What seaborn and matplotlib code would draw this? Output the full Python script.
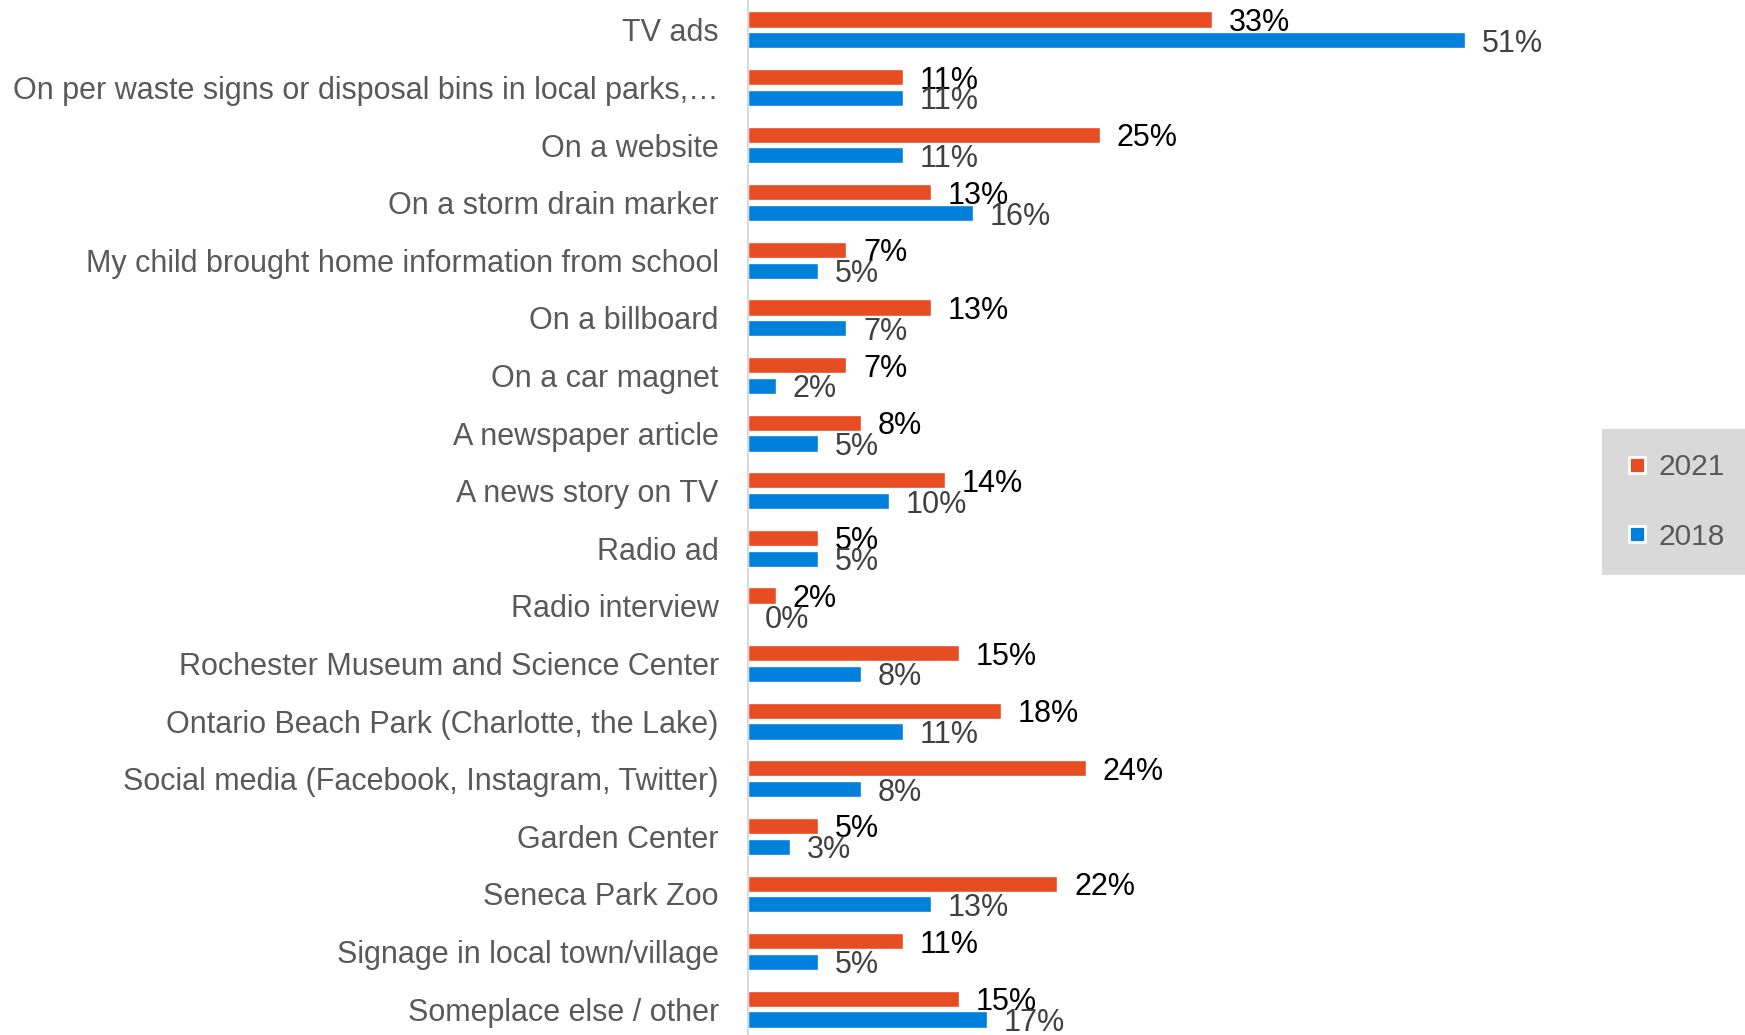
import pandas as pd
import seaborn as sns
import matplotlib.pyplot as plt
from matplotlib.lines import Line2D

# survey answers: where people saw the message
categories = [
    "TV ads",
    "On per waste signs or disposal bins in local parks,\u2026",
    "On a website",
    "On a storm drain marker",
    "My child brought home information from school",
    "On a billboard",
    "On a car magnet",
    "A newspaper article",
    "A news story on TV",
    "Radio ad",
    "Radio interview",
    "Rochester Museum and Science Center",
    "Ontario Beach Park (Charlotte, the Lake)",
    "Social media (Facebook, Instagram, Twitter)",
    "Garden Center",
    "Seneca Park Zoo",
    "Signage in local town/village",
    "Someplace else / other",
]
pct_2021 = [33, 11, 25, 13, 7, 13, 7, 8, 14, 5, 2, 15, 18, 24, 5, 22, 11, 15]
pct_2018 = [51, 11, 11, 16, 5, 7, 2, 5, 10, 5, 0, 8, 11, 8, 3, 13, 5, 17]
years = ["2021", "2018"]

red = "#E84C22"
blue = "#0080DD"

df = pd.DataFrame({
    "source": categories * 2,
    "pct": pct_2021 + pct_2018,
    "year": [years[0]] * len(categories) + [years[1]] * len(categories),
})

sns.set_theme(style="white")
plt.rcParams["font.family"] = ["Liberation Sans", "DejaVu Sans"]

fig = plt.figure(figsize=(17.45, 10.35), dpi=100)
ax = fig.add_axes([748 / 1745, -3 / 1035, 844 / 1745, 1037 / 1035])

sns.barplot(data=df, y="source", x="pct", hue="year", hue_order=years,
            palette=[red, blue], orient="h", width=0.72, gap=0.22,
            saturation=1, legend=False, ax=ax)

ax.set_xlim(0, 60)
ax.set_xlabel("")
ax.set_ylabel("")
ax.set_xticks([])
ax.tick_params(axis="y", length=0, pad=21, labelsize=22, labelcolor="#595959")
for s in ["top", "right", "bottom"]:
    ax.spines[s].set_visible(False)
ax.spines["left"].set_color("#D9D9D9")
ax.spines["left"].set_linewidth(1.5)

# value labels, centred on the bars by their baseline
lab21 = ax.bar_label(ax.containers[0], fmt="{:.0f}%", padding=12, fontsize=22, color="black")
lab18 = ax.bar_label(ax.containers[1], fmt="{:.0f}%", padding=12, fontsize=22, color="#404040")
for t in lab21 + lab18:
    t.set_verticalalignment("center_baseline")

handles = [Line2D([], [], marker="s", ls="none", markersize=11, markerfacecolor=c,
                  markeredgecolor="white", markeredgewidth=2) for c in [red, blue]]
leg = fig.legend(handles, years, loc="center", bbox_to_anchor=(1675 / 1745, 1 - 502 / 1035),
                 fontsize=21.5, labelcolor="#595959", facecolor="#D9D9D9", edgecolor="none",
                 fancybox=False, framealpha=1, labelspacing=1.4, borderpad=0.8,
                 handlelength=0.8, handletextpad=0.3, borderaxespad=0)

fig.savefig("out.png", dpi=100)
